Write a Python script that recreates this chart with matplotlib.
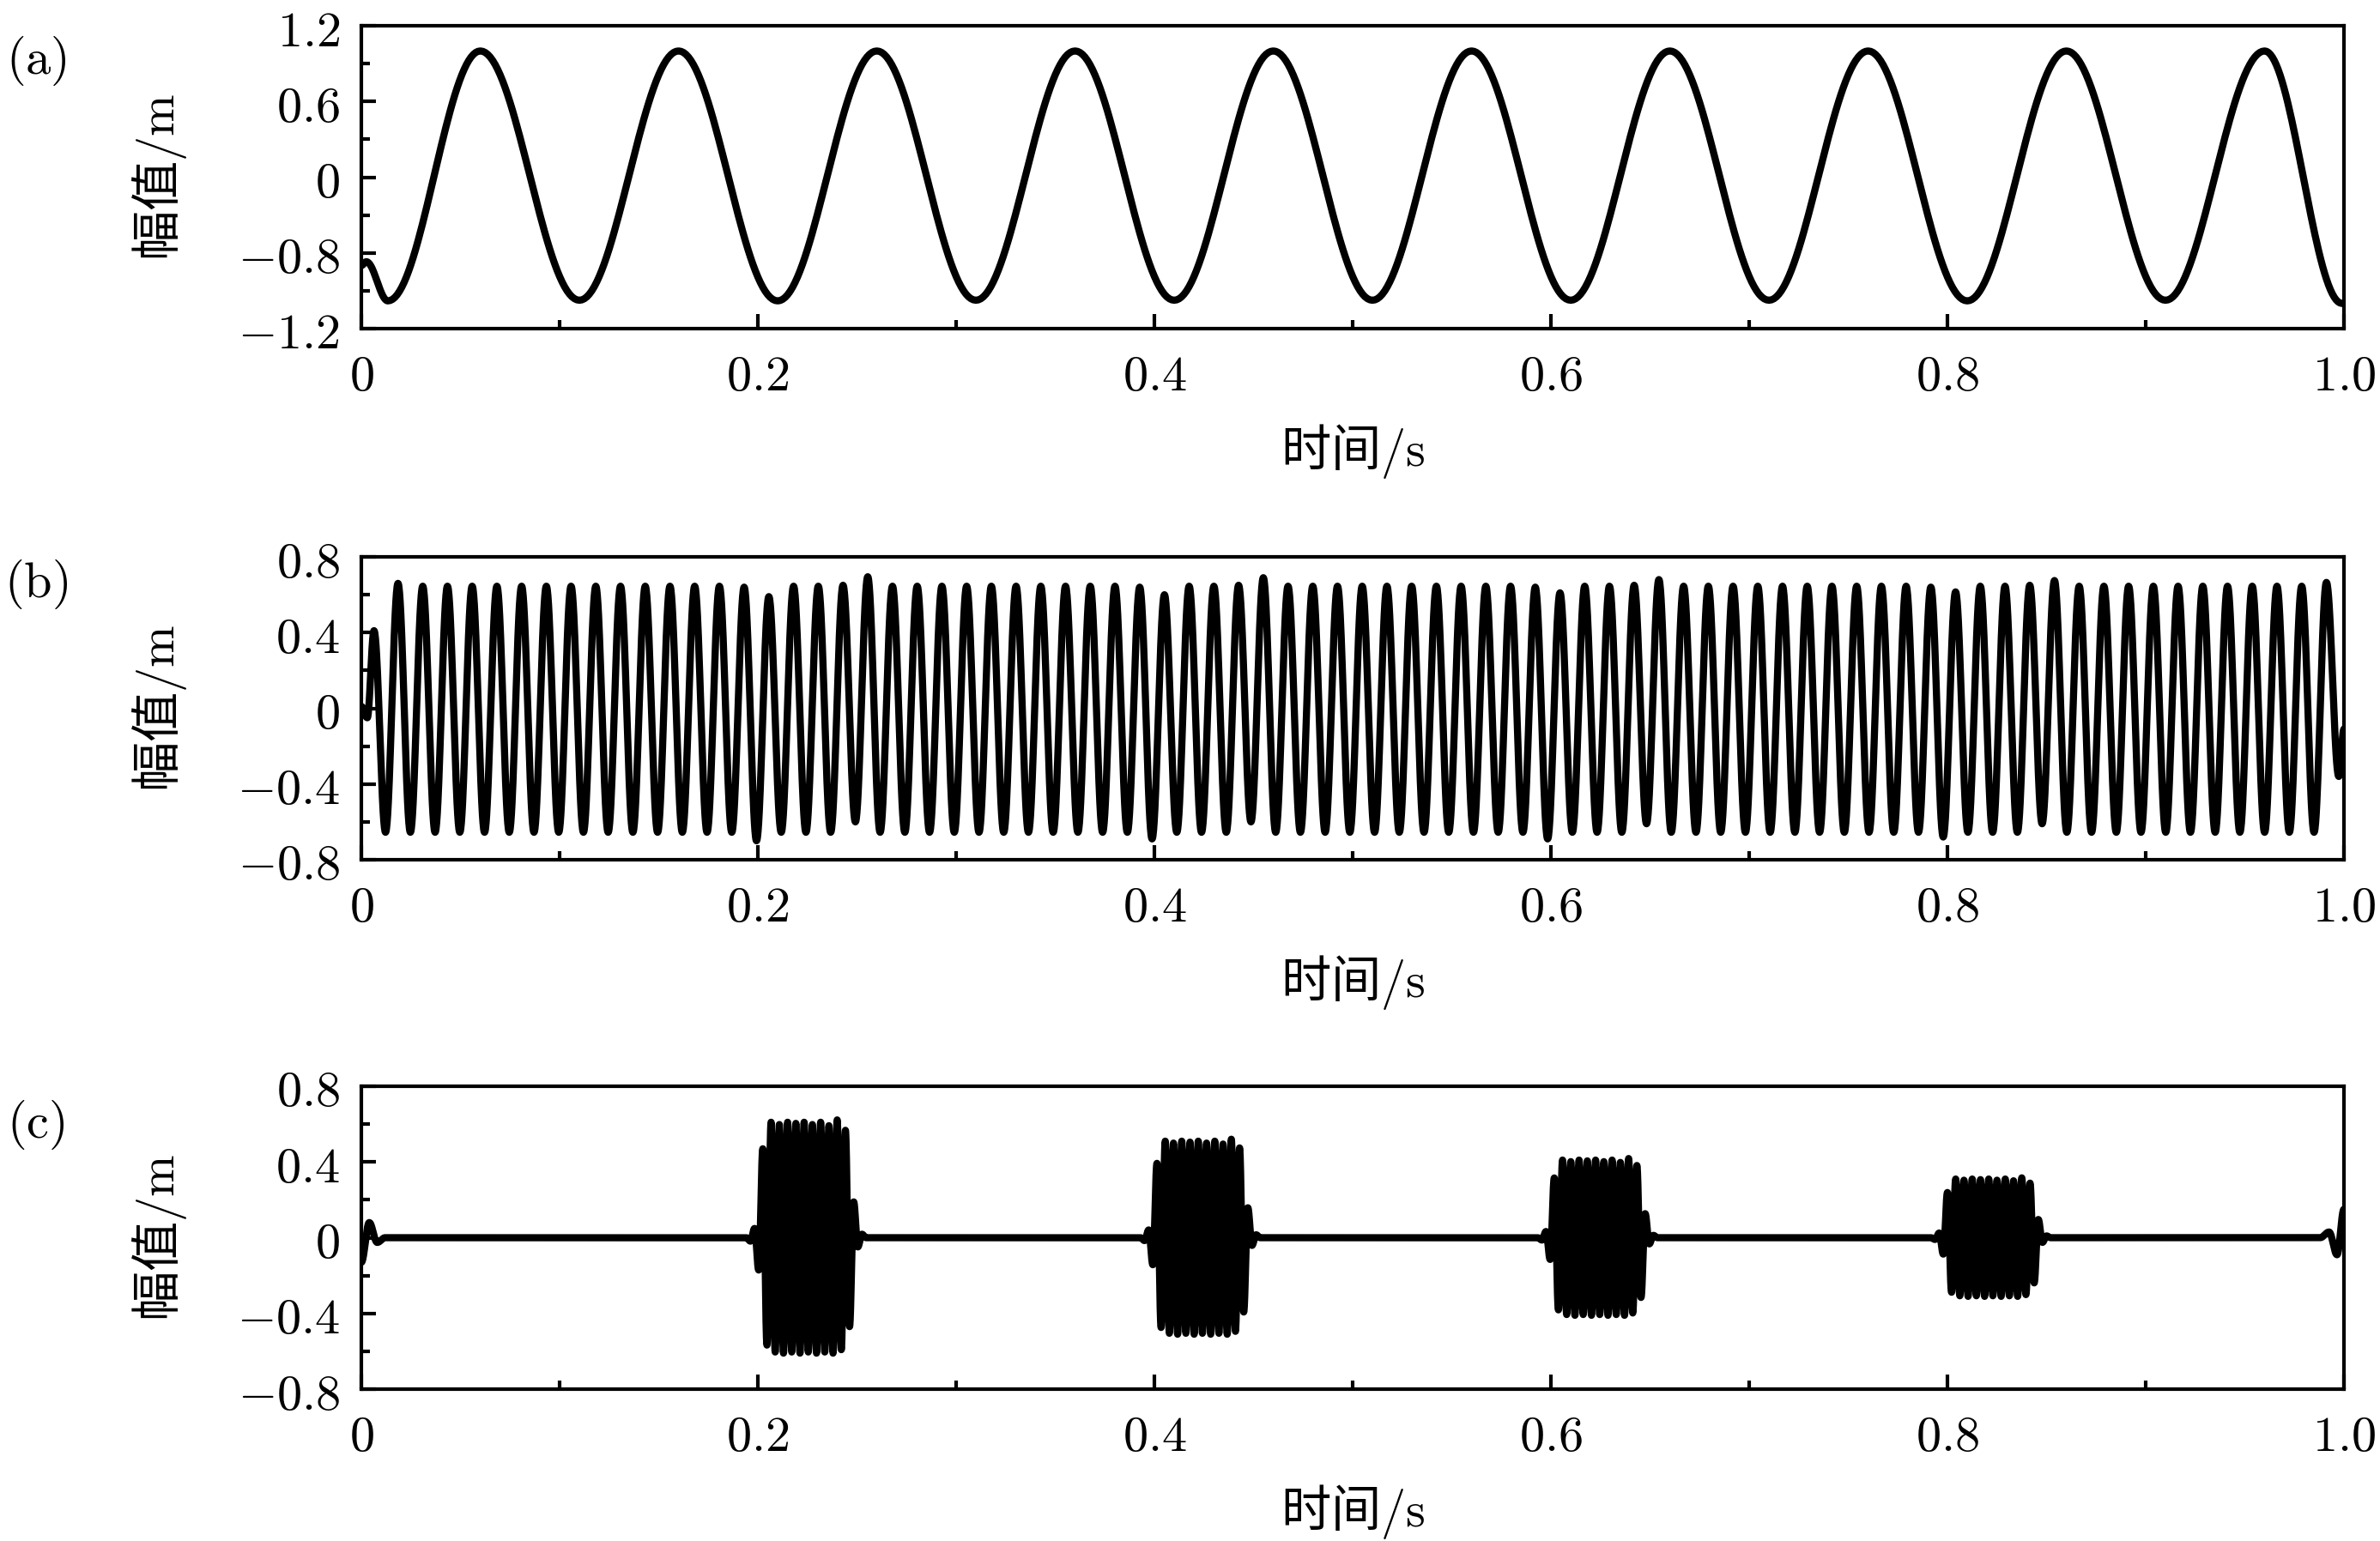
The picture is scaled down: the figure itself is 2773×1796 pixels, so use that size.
import numpy as np
import matplotlib
matplotlib.use("Agg")
import matplotlib.pyplot as plt
from matplotlib.ticker import MultipleLocator, FixedLocator, FixedFormatter

plt.rcParams['mathtext.fontset'] = 'cm'
plt.rcParams['font.family'] = ['Noto Sans CJK SC', 'DejaVu Sans']

############## data ####################################
# (a) low-frequency component: extrema (time, value)
a_t = [0, 0.0025, 0.0134, 0.06, 0.11, 0.16, 0.21, 0.26, 0.31, 0.36, 0.41, 0.46,
       0.51, 0.56, 0.61, 0.66, 0.71, 0.76, 0.81, 0.86, 0.91, 0.96, 0.999]
a_v = [-0.70, -0.67, -0.98, 1.0, -0.975, 1.0, -0.98, 1.0, -0.975, 1.0, -0.975, 1.0,
       -0.975, 1.0, -0.975, 1.0, -0.975, 1.0, -0.98, 1.0, -0.975, 1.0, -1.0]

# (b) 80 Hz component: start wiggle, then one peak and one trough per cycle
b_head_t = [0, 0.003, 0.0064, 0.0122]
b_head_v = [0.01, -0.05, 0.41, -0.655]
b_first_peak = 0.0185
b_period = 0.01247
b_peaks = [0.66, 0.645, 0.645, 0.645, 0.645, 0.645, 0.645, 0.645, 0.645, 0.645,
           0.645, 0.645, 0.645, 0.645, 0.64, 0.59, 0.645, 0.645, 0.65, 0.695,
           0.645, 0.645, 0.645, 0.645, 0.645, 0.645, 0.645, 0.645, 0.645, 0.645,
           0.64, 0.60, 0.645, 0.645, 0.65, 0.69, 0.645, 0.645, 0.645, 0.645,
           0.645, 0.645, 0.645, 0.645, 0.645, 0.645, 0.64, 0.61, 0.645, 0.645,
           0.65, 0.68, 0.645, 0.645, 0.645, 0.645, 0.645, 0.645, 0.645, 0.645,
           0.645, 0.645, 0.64, 0.615, 0.645, 0.645, 0.65, 0.675, 0.645, 0.645,
           0.645, 0.645, 0.645, 0.645, 0.645, 0.645, 0.645, 0.645, 0.665]
b_troughs = [-0.655, -0.655, -0.655, -0.655, -0.655, -0.655, -0.655, -0.655, -0.655, -0.655,
             -0.655, -0.655, -0.655, -0.655, -0.70, -0.655, -0.655, -0.655, -0.60, -0.655,
             -0.655, -0.655, -0.655, -0.655, -0.655, -0.655, -0.655, -0.655, -0.655, -0.655,
             -0.69, -0.655, -0.655, -0.655, -0.60, -0.655, -0.655, -0.655, -0.655, -0.655,
             -0.655, -0.655, -0.655, -0.655, -0.655, -0.655, -0.69, -0.655, -0.655, -0.655,
             -0.61, -0.655, -0.655, -0.655, -0.655, -0.655, -0.655, -0.655, -0.655, -0.655,
             -0.655, -0.655, -0.68, -0.655, -0.655, -0.655, -0.61, -0.655, -0.655, -0.655,
             -0.655, -0.655, -0.655, -0.655, -0.655, -0.655, -0.655, -0.655, -0.36]
b_end_v = -0.11

# (c) 240 Hz bursts
c_head_t = [0, 0.004, 0.008, 0.012]
c_head_v = [-0.13, 0.08, -0.025, 0]
c_burst_peak1 = [0.2025, 0.4013, 0.6017, 0.8000]   # time of first big peak
c_burst_amp = [0.61, 0.51, 0.41, 0.31]
c_freq = 240
# normalised extrema of one burst, index 4 = first big peak
c_shape = [0, -0.03, 0.08, -0.28, 0.77, -0.93, 1.0, -0.99, 0.98, -1.0, 1.0, -0.99,
           0.99, -1.0, 1.0, -0.99, 0.98, -1.0, 1.0, -0.99, 0.97, -1.0, 1.02, -0.97,
           0.93, -0.77, 0.31, -0.08, 0.03, 0]
c_tail_t = [0.988, 0.9925, 0.9965, 1.0]
c_tail_v = [0, 0.03, -0.09, 0.15]

x_ticks = [0, 0.2, 0.4, 0.6, 0.8, 1.0]
x_labels = ['0', '0.2', '0.4', '0.6', '0.8', '1.0']
a_yticks = [-1.2, -0.6, 0, 0.6, 1.2]
a_ylabels = ['-1.2', '-0.8', '0', '0.6', '1.2']
bc_yticks = [-0.8, -0.4, 0, 0.4, 0.8]
bc_ylabels = ['-0.8', '-0.4', '0', '0.4', '0.8']


def through(tk, vk, n=40):
    # smooth half-cosine pieces between consecutive extrema
    ts, vs = [], []
    for i in range(len(tk) - 1):
        s = np.linspace(0, 1, n, endpoint=False)
        ts.append(tk[i] + (tk[i + 1] - tk[i]) * s)
        vs.append(vk[i] + (vk[i + 1] - vk[i]) * (1 - np.cos(np.pi * s)) / 2)
    ts.append([tk[-1]])
    vs.append([vk[-1]])
    return np.concatenate(ts), np.concatenate(vs)


# assemble extrema lists
b_t = list(b_head_t)
b_v = list(b_head_v)
for k in range(len(b_peaks)):
    tp = b_first_peak + k * b_period
    b_t += [tp, tp + b_period / 2]
    b_v += [b_peaks[k], b_troughs[k]]
b_t.append(1.0)
b_v.append(b_end_v)

half = 1 / (2 * c_freq)
c_t = list(c_head_t)
c_v = list(c_head_v)
for p1, amp in zip(c_burst_peak1, c_burst_amp):
    for i, s in enumerate(c_shape):
        c_t.append(p1 + (i - 4) * half)
        c_v.append(amp * s)
c_t += c_tail_t
c_v += c_tail_v

signals = [through(a_t, a_v), through(b_t, b_v), through(c_t, c_v)]

############## figure ###############
W, H = 2773, 1796
fig = plt.figure(figsize=(W / 300, H / 300), dpi=300)

tops = [30, 649, 1266]
letters = ['(a)', '(b)', '(c)']
letter_y = [71, 681, 1311]

for i, (t, v) in enumerate(signals):
    ax = fig.add_axes([421 / W, 1 - (tops[i] + 353) / H, 2310 / W, 353 / H])
    ax.plot(t, v, color='black', linewidth=2.0, solid_joinstyle='round')
    ax.set_xlim(0, 1)

    if i == 0:
        ax.set_ylim(-1.2, 1.2)
        yt, yl, ymin = a_yticks, a_ylabels, 0.3
    else:
        ax.set_ylim(-0.8, 0.8)
        yt, yl, ymin = bc_yticks, bc_ylabels, 0.2

    ax.xaxis.set_major_locator(FixedLocator(x_ticks))
    ax.xaxis.set_major_formatter(FixedFormatter(['$%s$' % s for s in x_labels]))
    ax.xaxis.set_minor_locator(MultipleLocator(0.1))
    ax.yaxis.set_major_locator(FixedLocator(yt))
    ax.yaxis.set_major_formatter(FixedFormatter(['$%s$' % s for s in yl]))
    ax.yaxis.set_minor_locator(MultipleLocator(ymin))

    ax.tick_params(which='both', direction='in', top=False, right=False,
                   labelsize=14, width=1.0)
    ax.tick_params(which='major', length=4, pad=6)
    ax.tick_params(which='minor', length=2.5)
    for sp in ax.spines.values():
        sp.set_linewidth(1.0)

    ax.set_xlabel('时间$/\\mathrm{s}$', fontsize=14)
    ax.xaxis.label.set_va('center')
    ax.xaxis.set_label_coords(0.5, -0.404)
    ax.set_ylabel('幅值$/\\mathrm{m}$', fontsize=14)
    ax.yaxis.label.set_va('center')
    ax.yaxis.set_label_coords(-0.1017, 0.5)

    fig.text(42 / W, 1 - letter_y[i] / H, '$\\mathrm{%s}$' % letters[i],
             fontsize=14, ha='center', va='center')

plt.savefig("out.png", format="png", dpi=300)
